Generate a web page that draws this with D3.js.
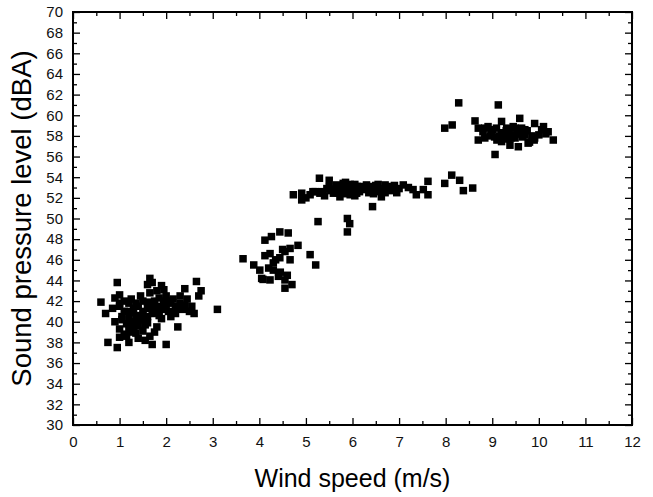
<!DOCTYPE html>
<html><head><meta charset="utf-8">
<script src="https://cdn.jsdelivr.net/npm/d3@7"></script>
<style>body{margin:0;background:#fff}svg{display:block}text{font-family:"Liberation Sans",Arial,sans-serif}</style>
</head><body>
<script>
const xTicks = [0,1,2,3,4,5,6,7,8,9,10,11,12];
const yTicks = [30,32,34,36,38,40,42,44,46,48,50,52,54,56,58,60,62,64,66,68,70];
const xLabel = "Wind speed (m/s)";
const yLabel = "Sound pressure level (dBA)";
const windSpeed = [
 0.6,0.7,0.75,0.85,0.9,0.9,0.95,0.95,1.0,1.0,1.0,1.0,1.05,1.1,1.1,1.15,1.2,1.2,1.2,1.25,1.3,1.3,1.35,1.4,1.4,1.45,1.5,1.5,1.55,1.6,1.6,1.65,1.65,1.7,1.7,1.7,1.75,1.8,1.8,1.85,1.9,1.9,1.95,2.0,2.0,2.05,2.1,2.15,2.2,2.25,2.3,2.35,2.4,2.5,2.55,2.6,2.65,2.7,2.75,3.1,
 1.1,1.3,1.6,1.75,1.5,1.85,2.0,1.4,1.2,1.55,2.2,1.0,1.65,1.95,2.1,1.15,1.35,1.45,1.8,1.25,
 1.05,1.25,1.45,1.6,1.7,1.9,2.05,2.3,2.45,1.35,1.55,1.75,1.15,1.5,1.85,2.15,2.4,1.3,1.6,1.95,
 3.65,3.88,4.01,4.08,4.23,4.30,4.12,4.23,4.12,4.26,4.44,4.62,4.30,4.41,4.55,4.55,4.44,4.55,4.66,4.83,5.09,5.21,4.66,4.05,4.2,4.45,4.6,4.7,4.35,4.5,
 4.73,4.91,4.91,5.09,5.30,5.29,5.50,5.59,5.66,5.80,5.94,6.09,6.30,6.44,6.43,5.26,5.89,5.94,5.89,5.73,
 5.0,5.15,5.4,5.45,5.55,5.7,5.75,5.85,5.9,6.0,6.05,6.15,6.2,6.25,6.35,6.5,6.55,6.6,6.75,6.8,6.9,7.0,5.6,5.85,6.1,
 5.35,5.65,5.95,6.2,6.45,6.7,5.5,5.8,6.05,6.3,6.55,6.95,7.2,5.2,5.95,
 6.44,6.70,6.62,6.84,7.09,7.30,7.37,7.52,7.62,7.62,7.98,8.13,8.30,8.38,8.58,
 8.28,9.13,7.98,8.14,8.63,8.70,8.70,8.84,8.91,9.06,9.20,9.31,9.20,9.38,9.49,9.59,9.56,9.70,9.77,9.91,9.91,10.06,10.20,10.31,9.09,9.41,9.27,9.63,8.84,8.98,9.49,
 8.8,9.0,9.15,9.25,9.35,9.45,9.55,9.65,9.75,9.85,10.0,9.1,9.3,9.6,9.8,10.1,
 8.95,9.2,9.4,9.55,9.7,9.9,9.05,9.35,9.65,10.15
];
const soundLevel = [
 41.9,40.8,38.0,41.3,42.3,40.0,37.5,43.8,42.6,41.5,39.3,38.5,40.5,41.0,38.8,39.8,41.8,40.3,38.0,42.2,39.0,41.3,40.6,39.6,38.4,42.5,41.0,39.1,40.2,43.6,41.9,38.6,44.2,37.8,40.8,43.8,42.0,39.5,43.0,41.5,43.5,40.3,41.8,37.8,42.5,41.0,40.5,42.2,41.5,39.5,42.5,41.2,43.2,41.0,41.5,40.8,43.9,42.5,43.0,41.2,
 42.0,40.0,40.5,39.0,42.0,42.3,41.5,41.5,39.3,38.2,40.8,41.8,42.8,43.1,41.8,38.6,38.9,40.2,40.9,39.2,
 40.2,40.9,40.4,41.3,41.6,41.2,42.0,41.8,42.2,41.8,39.7,41.4,41.0,40.6,40.6,40.9,41.6,39.5,39.9,42.0,
 46.1,45.5,45.0,44.1,44.05,45.7,46.4,46.6,47.9,48.25,48.7,48.6,45.0,44.4,44.05,43.25,46.2,46.8,47.1,47.4,46.5,45.5,46.0,44.2,45.2,44.8,44.5,43.6,46.0,47.0,
 52.3,52.45,51.8,52.3,52.45,53.9,53.7,52.45,53.25,53.4,53.1,52.45,53.25,52.8,51.15,49.7,50.0,49.5,48.7,52.1,
 52.0,52.6,52.2,52.9,52.7,52.5,53.0,52.4,52.9,52.7,53.3,52.6,53.0,52.8,52.5,53.2,52.9,52.6,53.0,52.7,53.2,52.9,52.8,53.5,53.1,
 52.6,52.9,52.3,53.1,52.4,52.5,53.0,52.7,52.2,52.9,53.3,52.5,53.0,52.6,53.3,
 53.1,53.25,52.1,53.1,53.25,52.8,52.3,52.8,52.3,53.6,53.4,54.2,53.7,52.7,52.95,
 61.2,61.0,58.75,59.06,59.45,58.75,57.6,57.8,58.9,56.2,59.4,58.75,57.45,57.1,58.75,59.7,56.95,58.1,57.3,59.2,57.8,58.6,58.4,57.6,58.75,58.1,57.9,58.75,58.75,58.25,57.8,
 58.4,58.6,58.0,58.3,57.7,58.9,58.2,57.9,58.5,58.0,58.1,57.6,58.5,58.4,57.4,58.9,
 58.0,58.3,57.8,58.2,58.6,57.6,57.9,58.5,58.1,58.2
];

const W=653,H=497, m={l:73,r:21,t:12,b:72};
const svg=d3.select("body").append("svg").attr("width",W).attr("height",H);
const x=d3.scaleLinear().domain([0,12]).range([m.l,W-m.r]);
const y=d3.scaleLinear().domain([30,70]).range([H-m.b,m.t]);
const pts=windSpeed.map((v,i)=>({x:v,y:soundLevel[i]}));

const s=7.5;
svg.append("g").selectAll("rect").data(pts).join("rect")
 .attr("x",d=>x(d.x)-s/2).attr("y",d=>y(d.y)-s/2).attr("width",s).attr("height",s).attr("fill","#000");

const xMinor=d3.range(0.5,12,1), yMinor=d3.range(31,70,2);
function styleAx(g){g.select(".domain").remove();g.selectAll("line").attr("stroke","#000").attr("stroke-width",1.3);g.selectAll("text").attr("font-size","15px").attr("fill","#111");}
// bottom
svg.append("g").attr("transform",`translate(0,${H-m.b})`).call(d3.axisBottom(x).tickValues(xTicks).tickSize(-7).tickPadding(11).tickFormat(d3.format("d"))).call(styleAx);
svg.append("g").attr("transform",`translate(0,${H-m.b})`).call(d3.axisBottom(x).tickValues(xMinor).tickSize(-4).tickFormat("")).call(styleAx);
// top
svg.append("g").attr("transform",`translate(0,${m.t})`).call(d3.axisTop(x).tickValues(xTicks).tickSize(-7).tickFormat("")).call(styleAx);
svg.append("g").attr("transform",`translate(0,${m.t})`).call(d3.axisTop(x).tickValues(xMinor).tickSize(-4).tickFormat("")).call(styleAx);
// left
svg.append("g").attr("transform",`translate(${m.l},0)`).call(d3.axisLeft(y).tickValues(yTicks).tickSize(-7).tickPadding(10).tickFormat(d3.format("d"))).call(styleAx);
svg.append("g").attr("transform",`translate(${m.l},0)`).call(d3.axisLeft(y).tickValues(yMinor).tickSize(-4).tickFormat("")).call(styleAx);
// right
svg.append("g").attr("transform",`translate(${W-m.r},0)`).call(d3.axisRight(y).tickValues(yTicks).tickSize(-7).tickFormat("")).call(styleAx);
svg.append("g").attr("transform",`translate(${W-m.r},0)`).call(d3.axisRight(y).tickValues(yMinor).tickSize(-4).tickFormat("")).call(styleAx);

svg.append("rect").attr("x",m.l).attr("y",m.t).attr("width",W-m.l-m.r).attr("height",H-m.t-m.b)
 .attr("fill","none").attr("stroke","#000").attr("stroke-width",2);

svg.append("text").attr("x",(m.l+W-m.r)/2).attr("y",487).attr("text-anchor","middle").attr("font-size","25px").text(xLabel);
svg.append("text").attr("transform",`translate(31,${(m.t+H-m.b)/2}) rotate(-90)`).attr("text-anchor","middle").attr("font-size","27.5px").text(yLabel);
</script>
</body></html>
